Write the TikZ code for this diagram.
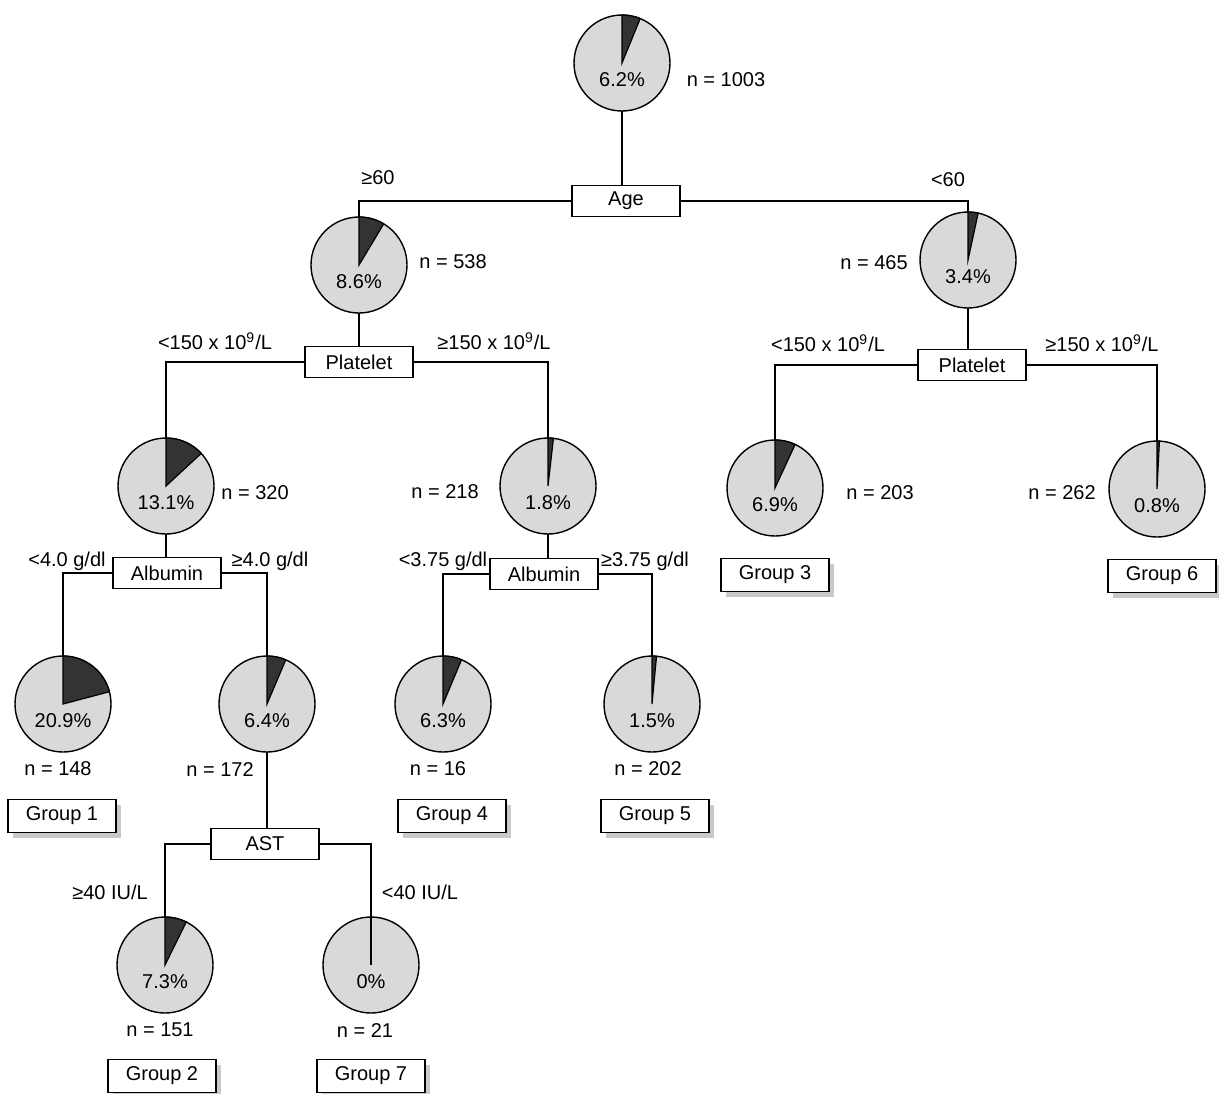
\documentclass[tikz,border=0pt]{standalone}
\usepackage{fontspec}
\setmainfont{Liberation Sans}
\usetikzlibrary{shadows}

\tikzset{
  pie/.style={circle, draw, line width=0.7pt, fill=black!15, minimum size=48pt, inner sep=0pt, outer sep=0pt},
  wedge/.style={draw, line width=0.6pt, fill=black!80},
  pct/.style={font=\fontsize{10}{12}\selectfont, inner sep=0pt},
  nlab/.style={font=\fontsize{10}{12}\selectfont, inner sep=0pt},
  cond/.style={font=\fontsize{10}{12}\selectfont, inner sep=0pt},
  split/.style={draw, line width=0.7pt, fill=white, minimum width=54pt, minimum height=15.5pt, inner sep=0pt, font=\fontsize{10}{12}\selectfont},
  group/.style={split, minimum height=16.5pt, drop shadow={shadow xshift=2.5pt, shadow yshift=-2.5pt, fill=black!30, opacity=0.7}},
  link/.style={line width=0.7pt}
}

\begin{document}
\begin{tikzpicture}[x=0.5pt, y=0.5pt]
\useasboundingbox (0,0) rectangle (1219,-1093);

% Root
\node[pie] (p0) at (622,-63) {};
\fill[wedge] (p0.center) -- (p0.north) arc[start angle=90, end angle=67.7, radius=48] -- cycle;
\node[pct] (p0l) at ([yshift=-8.5pt]p0.center) {6.2\%};
\node[nlab] (n0) at (726,-80) {n = 1003};
\node[split] (age) at (626,-201) {Age};

% Age split
\node[pie] (p1) at (359,-265) {};
\fill[wedge] (p1.center) -- (p1.north) arc[start angle=90, end angle=59, radius=48] -- cycle;
\node[pct] (p1l) at ([yshift=-8.5pt]p1.center) {8.6\%};
\node[nlab] (n1) at (453,-262) {n = 538};
\node[pie] (p2) at (968,-260) {};
\fill[wedge] (p2.center) -- (p2.north) arc[start angle=90, end angle=77.8, radius=48] -- cycle;
\node[pct] (p2l) at ([yshift=-8.5pt]p2.center) {3.4\%};
\node[nlab] (n2) at (874,-263) {n = 465};
\node[cond] (c1) at (378,-178) {≥60};
\node[cond] (c2) at (948,-180) {<60};

% Platelet splits
\node[split] (plt1) at (359,-362) {Platelet};
\node[split] (plt2) at (972,-365) {Platelet};
\node[cond] (c3) at (215,-341) {<150 x 10\textsuperscript{9}/L};
\node[cond] (c4) at (494,-341) {≥150 x 10\textsuperscript{9}/L};
\node[cond] (c5) at (828,-343) {<150 x 10\textsuperscript{9}/L};
\node[cond] (c6) at (1102,-343) {≥150 x 10\textsuperscript{9}/L};

\node[pie] (p3) at (166,-486) {};
\fill[wedge] (p3.center) -- (p3.north) arc[start angle=90, end angle=42.8, radius=48] -- cycle;
\node[pct] (p3l) at ([yshift=-8.5pt]p3.center) {13.1\%};
\node[nlab] (n3) at (255,-493) {n = 320};
\node[pie] (p4) at (548,-486) {};
\fill[wedge] (p4.center) -- (p4.north) arc[start angle=90, end angle=83.5, radius=48] -- cycle;
\node[pct] (p4l) at ([yshift=-8.5pt]p4.center) {1.8\%};
\node[nlab] (n4) at (445,-492) {n = 218};
\node[pie] (p5) at (775,-488) {};
\fill[wedge] (p5.center) -- (p5.north) arc[start angle=90, end angle=65.2, radius=48] -- cycle;
\node[pct] (p5l) at ([yshift=-8.5pt]p5.center) {6.9\%};
\node[nlab] (n5) at (880,-493) {n = 203};
\node[pie] (p6) at (1157,-489) {};
\fill[wedge] (p6.center) -- (p6.north) arc[start angle=90, end angle=87.1, radius=48] -- cycle;
\node[pct] (p6l) at ([yshift=-8.5pt]p6.center) {0.8\%};
\node[nlab] (n6) at (1062,-493) {n = 262};
\node[group] (g3) at (775,-575) {Group 3};
\node[group] (g6) at (1162,-576) {Group 6};

% Albumin splits
\node[split] (alb1) at (167,-573) {Albumin};
\node[split] (alb2) at (544,-574) {Albumin};
\node[cond] (c7) at (67,-561) {<4.0 g/dl};
\node[cond] (c8) at (270,-561) {≥4.0 g/dl};
\node[cond] (c9) at (443,-561) {<3.75 g/dl};
\node[cond] (c10) at (645,-561) {≥3.75 g/dl};

\node[pie] (p7) at (63,-704) {};
\fill[wedge] (p7.center) -- (p7.north) arc[start angle=90, end angle=14.8, radius=48] -- cycle;
\node[pct] (p7l) at ([yshift=-8.5pt]p7.center) {20.9\%};
\node[nlab] (n7) at (58,-769) {n = 148};
\node[pie] (p8) at (267,-704) {};
\fill[wedge] (p8.center) -- (p8.north) arc[start angle=90, end angle=67, radius=48] -- cycle;
\node[pct] (p8l) at ([yshift=-8.5pt]p8.center) {6.4\%};
\node[nlab] (n8) at (220,-769) {n = 172};
\node[pie] (p9) at (443,-704) {};
\fill[wedge] (p9.center) -- (p9.north) arc[start angle=90, end angle=67.3, radius=48] -- cycle;
\node[pct] (p9l) at ([yshift=-8.5pt]p9.center) {6.3\%};
\node[nlab] (n9) at (438,-769) {n = 16};
\node[pie] (p10) at (652,-704) {};
\fill[wedge] (p10.center) -- (p10.north) arc[start angle=90, end angle=84.6, radius=48] -- cycle;
\node[pct] (p10l) at ([yshift=-8.5pt]p10.center) {1.5\%};
\node[nlab] (n10) at (648,-769) {n = 202};
\node[group] (g1) at (62,-816) {Group 1};
\node[group] (g4) at (452,-816) {Group 4};
\node[group] (g5) at (655,-816) {Group 5};

% AST split
\node[split] (ast) at (265,-844) {AST};
\node[cond] (c11) at (110,-892) {≥40 IU/L};
\node[cond] (c12) at (420,-892) {<40 IU/L};
\node[pie] (p11) at (165,-965) {};
\fill[wedge] (p11.center) -- (p11.north) arc[start angle=90, end angle=63.7, radius=48] -- cycle;
\node[pct] (p11l) at ([yshift=-8.5pt]p11.center) {7.3\%};
\node[nlab] (n11) at (160,-1030) {n = 151};
\node[pie] (p12) at (371,-965) {};
\draw[line width=0.6pt] (p12.center) -- (p12.north);
\node[pct] (p12l) at ([yshift=-8.5pt]p12.center) {0\%};
\node[nlab] (n12) at (365,-1030) {n = 21};
\node[group] (g2) at (162,-1076) {Group 2};
\node[group] (g7) at (371,-1076) {Group 7};

% Connectors
\draw[link] (p0.south) -- (p0.south |- age.north);
\draw[link] (age.west) -| (p1.north);
\draw[link] (age.east) -| (p2.north);
\draw[link] (p1.south) -- (plt1.north);
\draw[link] (p2.south) -- (p2.south |- plt2.north);
\draw[link] (plt1.west) -| (p3.north);
\draw[link] (plt1.east) -| (p4.north);
\draw[link] (plt2.west) -| (p5.north);
\draw[link] (plt2.east) -| (p6.north);
\draw[link] (p3.south) -- (p3.south |- alb1.north);
\draw[link] (p4.south) -- (p4.south |- alb2.north);
\draw[link] (alb1.west) -| (p7.north);
\draw[link] (alb1.east) -| (p8.north);
\draw[link] (alb2.west) -| (p9.north);
\draw[link] (alb2.east) -| (p10.north);
\draw[link] (p8.south) -- (p8.south |- ast.north);
\draw[link] (ast.west) -| (p11.north);
\draw[link] (ast.east) -| (p12.north);

\end{tikzpicture}
\end{document}
